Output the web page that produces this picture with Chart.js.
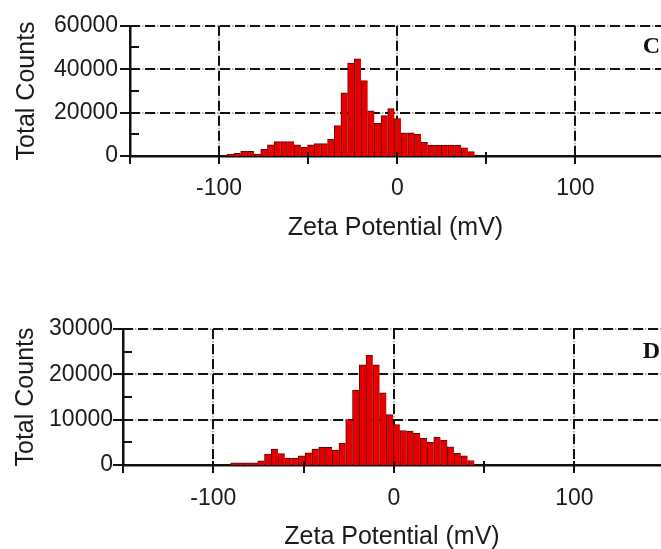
<!DOCTYPE html>
<html>
<head>
<meta charset="utf-8">
<script src="https://cdn.jsdelivr.net/npm/chart.js@4.4.1/dist/chart.umd.min.js"></script>
<style>
  html, body { margin: 0; padding: 0; background: #fff; overflow: hidden; }
  #wrap { position: relative; width: 661px; height: 549px; overflow: hidden; }
  canvas { position: absolute; left: 0; }
  #graficoC { top: 0; }
  #graficoD { top: 300px; }
</style>
</head>
<body>
<div id="wrap">
  <canvas id="graficoC" width="661" height="250"></canvas>
  <canvas id="graficoD" width="661" height="250"></canvas>
</div>
<script>
// Panel C - bin centres (mV) and counts
const zetaC = [-93.5, -89.75, -86, -82.25, -78.5, -74.75, -71, -67.25, -63.5, -59.75,
  -56, -52.25, -48.5, -44.75, -41, -37.25, -33.5, -29.75, -26, -22.25,
  -18.5, -14.75, -11, -7.25, -3.5, 0.25, 4, 7.75, 11.5, 15.25,
  19, 22.75, 26.5, 30.25, 34, 37.75, 41.5];
const countsC = [900, 1200, 2200, 2200, 900, 3100, 5100, 6600, 6600, 6600,
  5100, 4000, 5100, 5700, 5700, 7800, 14000, 29100, 42800, 44800,
  34700, 20800, 15000, 18600, 21800, 17300, 10700, 10700, 10000, 6300,
  5000, 5000, 5000, 5000, 5000, 3800, 2000];

// Panel D
const zetaD = [-88.5, -84.75, -81, -77.25, -73.5, -69.75, -66, -62.25, -58.5, -54.75,
  -51, -47.25, -43.5, -39.75, -36, -32.25, -28.5, -24.75, -21, -17.25,
  -13.5, -9.75, -6, -2.25, 1.5, 5.25, 9, 12.75, 16.5, 20.25,
  24, 27.75, 31.5, 35.25, 39, 42.75];
const countsD = [500, 500, 500, 500, 900, 2400, 3500, 2500, 1500, 1500,
  2000, 2700, 3500, 3900, 3900, 3300, 4800, 10000, 16500, 22100,
  24200, 22100, 15900, 11100, 8900, 7600, 7500, 7000, 5900, 5000,
  6100, 5500, 4000, 2600, 2000, 1000];

// axis ticks
const xLabels = [-100, 0, 100];
const xGridLines = [-100, 0, 100];
const xTickMarks = [-150, -100, -50, 0, 50, 100];
const yMajorC = [0, 20000, 40000, 60000];
const yMinorC = [10000, 30000, 50000];
const yMajorD = [0, 10000, 20000, 30000];
const yMinorD = [5000, 15000, 25000];

const txt = '#1a1a1a';
const sans = '"Liberation Sans", Arial, sans-serif';

const zetaGrid = {
  id: 'zetaGrid',
  beforeDatasetsDraw(chart, args, o) {
    const { ctx, chartArea: a, scales: { x, y } } = chart;
    const lines = [];
    o.yGrid.forEach(v => {
      if (v === 0) return;
      const py = Math.round(y.getPixelForValue(v));
      lines.push([a.left, py, a.right, py]);
    });
    o.xGrid.forEach(v => {
      const px = Math.round(x.getPixelForValue(v));
      lines.push([px, a.top, px, a.bottom]);
    });
    ctx.save();
    ctx.strokeStyle = '#a0a0a0';
    ctx.lineWidth = 1.5;
    ctx.setLineDash([1.5, 1.5]);
    lines.forEach(l => { ctx.beginPath(); ctx.moveTo(l[0], l[1]); ctx.lineTo(l[2], l[3]); ctx.stroke(); });
    ctx.strokeStyle = '#111';
    ctx.lineWidth = 2;
    ctx.setLineDash([10, 5]);
    lines.forEach(l => { ctx.beginPath(); ctx.moveTo(l[0], l[1]); ctx.lineTo(l[2], l[3]); ctx.stroke(); });
    ctx.restore();
  },
  afterDraw(chart, args, o) {
    const { ctx, chartArea: a, scales: { x, y } } = chart;
    ctx.save();
    ctx.strokeStyle = '#111';
    ctx.lineWidth = 2;
    o.yGrid.forEach(v => {
      const py = Math.round(y.getPixelForValue(v));
      ctx.beginPath(); ctx.moveTo(a.left - 10, py); ctx.lineTo(a.left, py); ctx.stroke();
    });
    o.yMinor.forEach(v => {
      const py = Math.round(y.getPixelForValue(v));
      ctx.beginPath(); ctx.moveTo(a.left, py); ctx.lineTo(a.left + 9, py); ctx.stroke();
    });
    o.xTicks.forEach(v => {
      const px = Math.round(x.getPixelForValue(v));
      ctx.beginPath(); ctx.moveTo(px, a.bottom - 4); ctx.lineTo(px, a.bottom + 8); ctx.stroke();
    });
    ctx.fillStyle = '#111';
    ctx.font = 'bold 24px "Liberation Serif", "Times New Roman", serif';
    ctx.textAlign = 'right';
    ctx.textBaseline = 'middle';
    ctx.fillText(o.letter, 660, a.top + o.letterDy);
    ctx.restore();
  }
};

function makeChart(id, zeta, counts, c) {
  return new Chart(document.getElementById(id).getContext('2d'), {
    type: 'bar',
    data: {
      datasets: [{
        data: zeta.map((z, i) => ({ x: z, y: counts[i] })),
        backgroundColor: '#e40000',
        borderColor: '#650000',
        borderWidth: { top: 1, left: 1, right: 0, bottom: 0 },
        barPercentage: 1,
        categoryPercentage: 1
      }]
    },
    options: {
      responsive: false,
      animation: false,
      layout: { padding: { top: c.padTop, right: 0, bottom: 0, left: 0 } },
      plugins: {
        legend: { display: false },
        tooltip: { enabled: false },
        zetaGrid: {
          yGrid: c.yMajor, yMinor: c.yMinor, xGrid: xGridLines, xTicks: xTickMarks,
          letter: c.letter, letterDy: c.letterDy
        }
      },
      scales: {
        x: {
          type: 'linear',
          offset: false,
          min: -150,
          max: 148,
          grid: { display: false, drawTicks: false },
          border: { display: true, color: '#111', width: 2.5 },
          afterBuildTicks: s => { s.ticks = xLabels.map(v => ({ value: v })); },
          afterFit: s => { s.height = c.xHeight; },
          ticks: { color: txt, font: { family: sans, size: 23 }, padding: c.xPad, maxRotation: 0, autoSkip: false },
          title: {
            display: true, text: 'Zeta Potential (mV)', color: txt,
            font: { family: sans, size: 25, lineHeight: 1 },
            padding: { top: 0, bottom: c.titlePad }
          }
        },
        y: {
          min: 0,
          max: c.yMax,
          grid: { display: false, drawTicks: false },
          border: { display: true, color: '#111', width: 2.5 },
          afterBuildTicks: s => { s.ticks = c.yMajor.map(v => ({ value: v })); },
          afterFit: s => { s.width = c.yWidth; },
          ticks: { color: txt, font: { family: sans, size: 23 }, padding: c.yPad, callback: v => String(v) },
          title: {
            display: true, text: 'Total Counts', color: txt,
            font: { family: sans, size: 25, lineHeight: 1 },
            padding: { top: c.yTitlePad, bottom: 0 }
          }
        }
      }
    },
    plugins: [zetaGrid]
  });
}

makeChart('graficoC', zetaC, countsC, {
  padTop: 20, xHeight: 94, xPad: 19, titlePad: 9, yWidth: 130, yPad: 12, yTitlePad: 15,
  yMax: 60000, yMajor: yMajorC, yMinor: yMinorC, letter: 'C', letterDy: 21
});
makeChart('graficoD', zetaD, countsD, {
  padTop: 29, xHeight: 85, xPad: 20, titlePad: 0, yWidth: 123, yPad: 10, yTitlePad: 14,
  yMax: 30000, yMajor: yMajorD, yMinor: yMinorD, letter: 'D', letterDy: 23
});
</script>
</body>
</html>
